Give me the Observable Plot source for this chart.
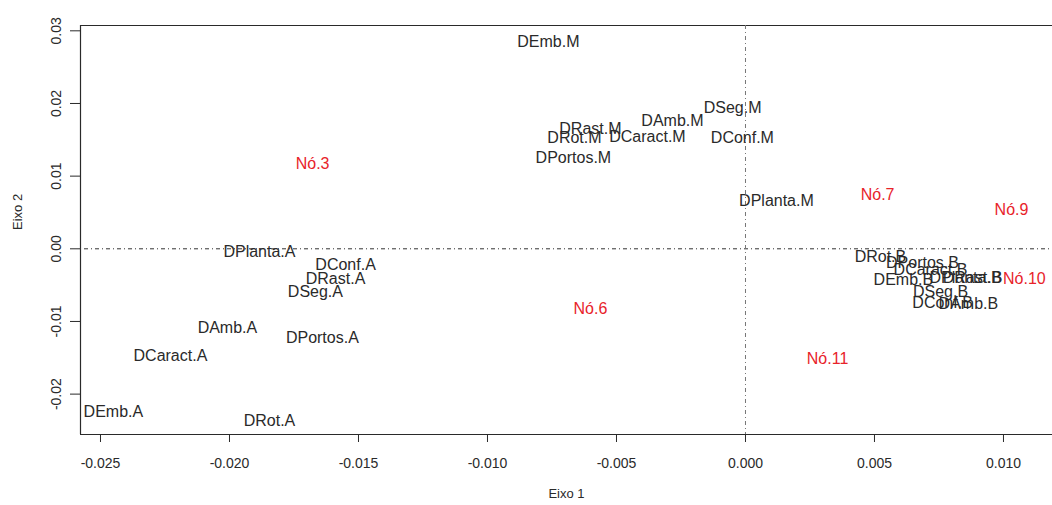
<!DOCTYPE html>
<html>
<head>
<meta charset="utf-8">
<script src="https://cdn.jsdelivr.net/npm/d3@7"></script>
<script src="https://cdn.jsdelivr.net/npm/@observablehq/plot@0.6"></script>
<style>
  body { margin: 0; background: #fff; }
  #chart svg { display: block; }
</style>
</head>
<body>
<div id="chart"></div>
<script>
// Variable coordinates on the first two axes (A, M and B levels)
const varLabels = [
  "DEmb.M", "DSeg.M", "DAmb.M", "DRast.M", "DRot.M", "DCaract.M", "DConf.M", "DPortos.M", "DPlanta.M",
  "DPlanta.A", "DConf.A", "DRast.A", "DSeg.A", "DAmb.A", "DPortos.A", "DCaract.A", "DEmb.A", "DRot.A",
  "DRot.B", "DPortos.B", "DCaract.B", "DEmb.B", "DPlanta.B", "DRast.B", "DSeg.B", "DConf.B", "DAmb.B"
];
const varEixo1 = [
  -0.00764, -0.00050, -0.00283, -0.00601, -0.00663, -0.00380, -0.00012, -0.00667, 0.00120,
  -0.01884, -0.01550, -0.01589, -0.01667, -0.02008, -0.01640, -0.02229, -0.02450, -0.01845,
  0.00523, 0.00686, 0.00717, 0.00612, 0.00853, 0.00880, 0.00756, 0.00764, 0.00864
];
const varEixo2 = [
  0.02853, 0.01944, 0.01766, 0.01656, 0.01532, 0.01546, 0.01532, 0.01257, 0.00665,
  -0.00037, -0.00216, -0.00409, -0.00588, -0.01084, -0.01221, -0.01469, -0.02239, -0.02363,
  -0.00106, -0.00189, -0.00285, -0.00422, -0.00395, -0.00395, -0.00588, -0.00739, -0.00753
];

// Tree node coordinates
const nodeLabels = ["Nó.3", "Nó.7", "Nó.9", "Nó.10", "Nó.6", "Nó.11"];
const nodeEixo1 = [-0.01678, 0.00512, 0.01031, 0.01081, -0.00601, 0.00318];
const nodeEixo2 = [0.01174, 0.00747, 0.00541, -0.00409, -0.00822, -0.01510];

// Axis ticks and limits
const xTicks = [-0.025, -0.020, -0.015, -0.010, -0.005, 0.000, 0.005, 0.010];
const yTicks = [-0.02, -0.01, 0.00, 0.01, 0.02, 0.03];
const xDomain = [-0.025775, 0.0119];
const yDomain = [-0.025557, 0.030732];

const vars = varLabels.map((label, i) => ({label, e1: varEixo1[i], e2: varEixo2[i]}));
const nodes = nodeLabels.map((label, i) => ({label, e1: nodeEixo1[i], e2: nodeEixo2[i]}));

const ink = "#2a2a2a";

const chart = Plot.plot({
  width: 1052,
  height: 505,
  marginLeft: 80,
  marginRight: 0,
  marginTop: 25,
  marginBottom: 71,
  style: {fontFamily: "'Liberation Sans', Arial, sans-serif", background: "#fff", color: ink},
  x: {domain: xDomain, axis: null},
  y: {domain: yDomain, axis: null},
  marks: [
    // box: top, bottom and left edges
    Plot.ruleY([yDomain[1], yDomain[0]], {stroke: ink, strokeWidth: 1.2}),
    Plot.ruleX([xDomain[0]], {stroke: ink, strokeWidth: 1.2}),
    // reference lines through the origin
    Plot.ruleY([0], {stroke: "#333", strokeDasharray: "1,3,4,3"}),
    Plot.ruleX([0], {stroke: "#777", strokeDasharray: "4,3,1,3"}),
    // axes
    Plot.axisX(xTicks, {
      ticks: xTicks, tickSize: 8, tickPadding: 16, fontSize: 14, stroke: ink, fill: ink,
      tickFormat: d => d.toFixed(3), label: null
    }),
    Plot.axisY(yTicks, {
      ticks: yTicks, tickSize: 10, tickPadding: 10, tickRotate: -90, fontSize: 14, stroke: ink, fill: ink,
      tickFormat: d => d.toFixed(2), label: null
    }),
    // axis titles
    Plot.text(["Eixo 1"], {frameAnchor: "bottom", dy: 63, fontSize: 13, fill: ink}),
    Plot.text(["Eixo 2"], {frameAnchor: "left", dx: -63, rotate: -90, fontSize: 13, fill: ink}),
    // variable labels
    Plot.text(vars, {x: "e1", y: "e2", text: "label", fontSize: 16, fill: ink}),
    // node labels
    Plot.text(nodes, {x: "e1", y: "e2", text: "label", fontSize: 16, fill: "#e8232a"})
  ]
});

document.getElementById("chart").appendChild(chart);
</script>
</body>
</html>
